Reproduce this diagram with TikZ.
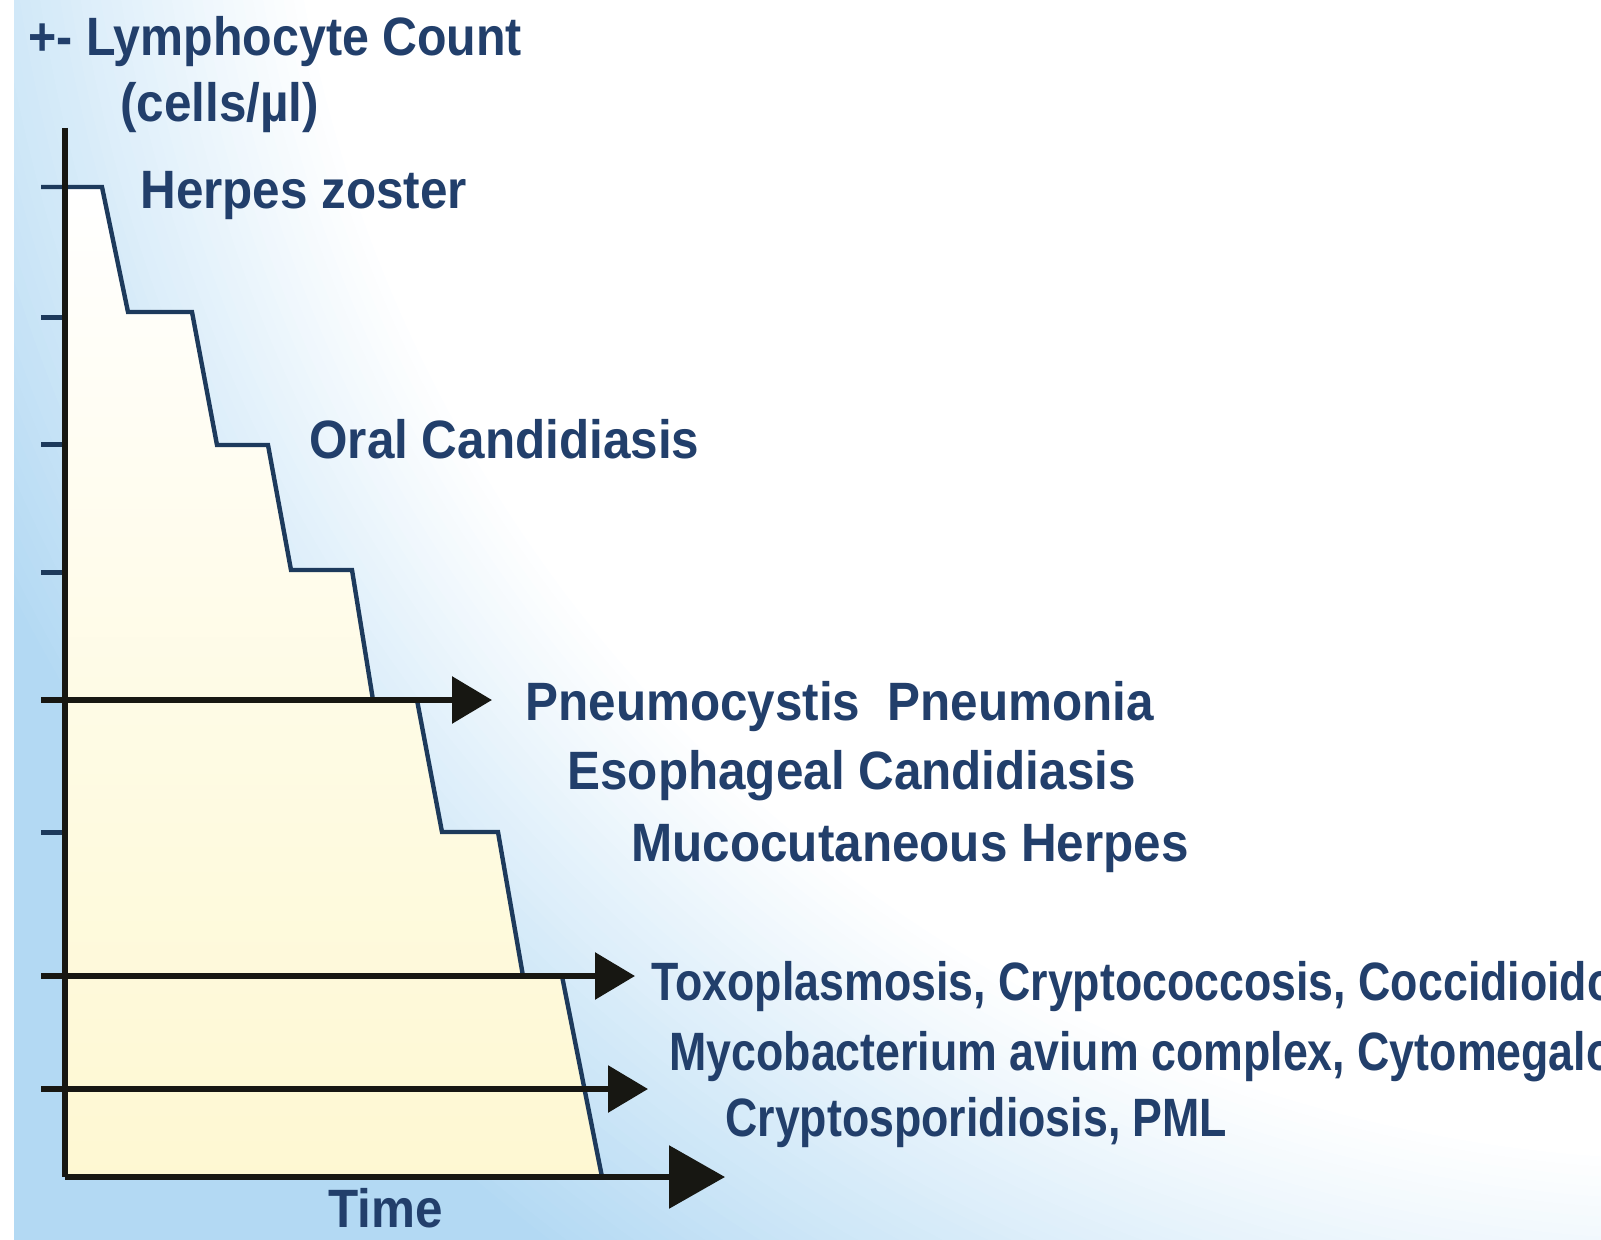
\documentclass[tikz,border=0pt]{standalone}
\usepackage{fontspec}
\setmainfont{Liberation Sans}
\newfontfamily\labfont{Liberation Sans}[FakeStretch=0.915]
\newfontfamily\labtitle{Liberation Sans}[FakeStretch=0.895]
\newfontfamily\labnarrow{Liberation Sans}[FakeStretch=0.828]
\usetikzlibrary{arrows.meta}
\definecolor{txtblue}{HTML}{223F6B}
\definecolor{curveblue}{HTML}{1D3A5C}
\definecolor{axisblack}{HTML}{171712}
\definecolor{bgblue}{HTML}{B3D9F3}
\definecolor{fillyellow}{HTML}{FEF8D2}
\begin{document}
\begin{tikzpicture}[x=0.5pt,y=-0.5pt,
  lab/.style={font=\labfont\bfseries\fontsize{27pt}{31pt}\selectfont, text=txtblue, inner sep=0pt, anchor=base west},
  labt/.style={lab, font=\labtitle\bfseries\fontsize{27pt}{31pt}\selectfont},
  labn/.style={lab, font=\labnarrow\bfseries\fontsize{27pt}{31pt}\selectfont},
  curve/.style={draw=curveblue, line width=2.2pt, line join=miter},
  tick/.style={draw=curveblue, line width=2.5pt},
  axisline/.style={draw=axisblack, line width=3pt},
  arrowline/.style={draw=axisblack, line width=3pt, -{Triangle[length=20pt,width=23pt]}},
  bigarrow/.style={draw=axisblack, line width=3pt, -{Triangle[length=28pt,width=31pt]}}]
\useasboundingbox (0,0) rectangle (1601,1240);
\begin{scope}
\clip (0,0) rectangle (1601,1240);
% background: light blue at the left and bottom, white towards the top right
\fill[bgblue] (0,0) rectangle (1601,1240);
\foreach \k in {0,...,48}{
  \pgfmathsetmacro\rr{1900-\k*10}
  \pgfmathtruncatemacro\pc{100-\k*100/48}
  \fill[bgblue!\pc!white] (1700,-260) circle[radius=\rr];
}
\fill[white] (0,0) rectangle (14,1240);
% area under the step curve
\shade[top color=white, bottom color=fillyellow, middle color=fillyellow!55!white]
  (65,187) -- (102,187) -- (128,312) -- (192,312) -- (217,445) -- (268,445) -- (291,570) -- (352,570)
  -- (373,700) -- (417,700) -- (442,832) -- (498,832) -- (523,976) -- (562,976) -- (602,1177) -- (65,1177) -- cycle;
% step curve
\draw[curve] (41,187) -- (102,187) -- (128,312) -- (192,312) -- (217,445) -- (268,445) -- (291,570) -- (352,570)
  -- (373,700) -- (417,700) -- (442,832) -- (498,832) -- (523,976) -- (562,976) -- (602,1177);
% ticks
\foreach \ty in {318,445,573,832} \draw[tick] (41,\ty) -- (65,\ty);
% threshold arrows
\coordinate (pcpS) at (41,700);  \coordinate (pcpE) at (492,700);
\coordinate (toxS) at (41,976);  \coordinate (toxE) at (635,976);
\coordinate (macS) at (41,1089); \coordinate (macE) at (648,1089);
\draw[arrowline] (pcpS) -- (pcpE);
\draw[arrowline] (toxS) -- (toxE);
\draw[arrowline] (macS) -- (macE);
% axes
\coordinate (ytop) at (65,128);
\coordinate (origin) at (65,1177);
\coordinate (xend) at (725,1177);
\draw[axisline] (ytop) -- (origin);
\draw[bigarrow] (origin) -- (xend);
% labels
\node[labt] (ylab) at (28,56) {+- Lymphocyte Count};
\node[lab] (yunit) at (120,122) {(cells/µl)};
\node[lab] (hz) at (140,209) {Herpes zoster};
\node[lab] (oc) at (309,459) {Oral Candidiasis};
\node[lab] (pcp) at (525,720) {Pneumocystis\ \ Pneumonia};
\node[lab] (ec) at (567,789) {Esophageal Candidiasis};
\node[lab] (mh) at (631,861) {Mucocutaneous Herpes};
\node[labn] (tox) at (651,1000) {Toxoplasmosis, Cryptococcosis, Coccidioidomycosis};
\node[labn] (mac) at (669,1070) {Mycobacterium avium complex, Cytomegalovirus};
\node[labn] (cry) at (725,1136) {Cryptosporidiosis, PML};
\node[lab] (time) at (328,1227) {Time};
\end{scope}
\end{tikzpicture}
\end{document}
